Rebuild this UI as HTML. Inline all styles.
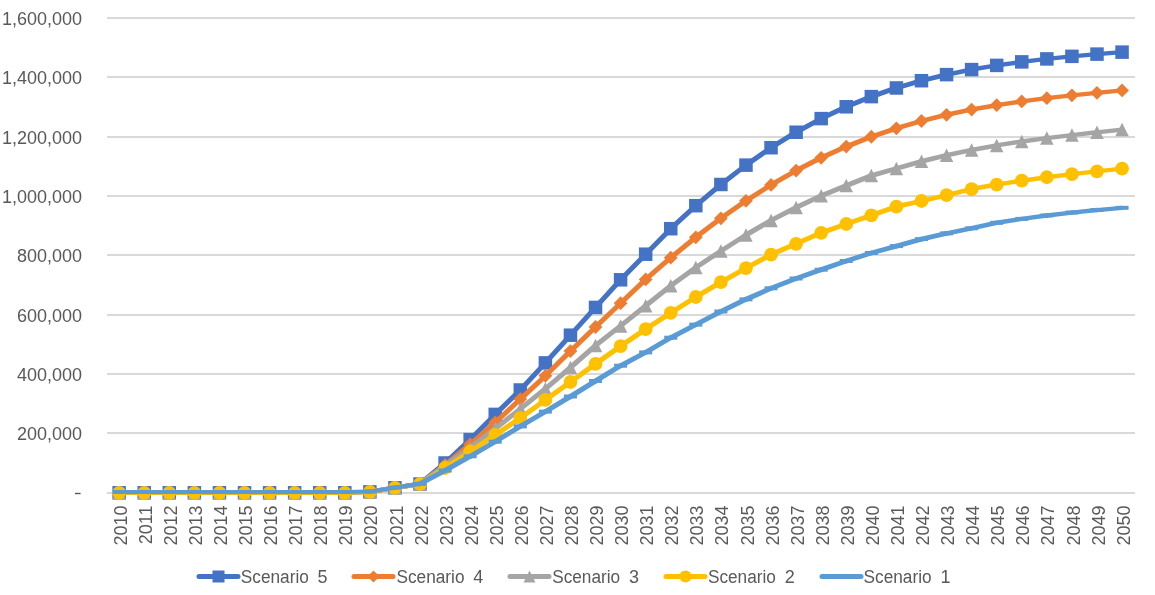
<!DOCTYPE html>
<html><head><meta charset="utf-8"><style>
html,body{margin:0;padding:0;background:#fff;}
body{width:1155px;height:595px;overflow:hidden;}
svg{display:block;will-change:transform;}
text{font-family:"Liberation Sans",sans-serif;font-size:18px;fill:#595959;}
</style></head><body>
<svg width="1155" height="595" viewBox="0 0 1155 595">
<rect width="1155" height="595" fill="#ffffff"/>
<line x1="107.0" y1="493.00" x2="1135.0" y2="493.00" stroke="#D9D9D9" stroke-width="2"/>
<line x1="107.0" y1="433.00" x2="1135.0" y2="433.00" stroke="#D9D9D9" stroke-width="2"/>
<line x1="107.0" y1="374.00" x2="1135.0" y2="374.00" stroke="#D9D9D9" stroke-width="2"/>
<line x1="107.0" y1="315.00" x2="1135.0" y2="315.00" stroke="#D9D9D9" stroke-width="2"/>
<line x1="107.0" y1="255.00" x2="1135.0" y2="255.00" stroke="#D9D9D9" stroke-width="2"/>
<line x1="107.0" y1="196.00" x2="1135.0" y2="196.00" stroke="#D9D9D9" stroke-width="2"/>
<line x1="107.0" y1="137.00" x2="1135.0" y2="137.00" stroke="#D9D9D9" stroke-width="2"/>
<line x1="107.0" y1="77.00" x2="1135.0" y2="77.00" stroke="#D9D9D9" stroke-width="2"/>
<line x1="107.0" y1="18.00" x2="1135.0" y2="18.00" stroke="#D9D9D9" stroke-width="2"/>
<rect x="75" y="492.80" width="5.6" height="1.4" fill="#595959"/>
<text x="82" y="440.00" text-anchor="end">200,000</text>
<text x="82" y="381.00" text-anchor="end">400,000</text>
<text x="82" y="322.00" text-anchor="end">600,000</text>
<text x="82" y="262.00" text-anchor="end">800,000</text>
<text x="82" y="203.00" text-anchor="end">1,000,000</text>
<text x="82" y="144.00" text-anchor="end">1,200,000</text>
<text x="82" y="84.00" text-anchor="end">1,400,000</text>
<text x="82" y="25.00" text-anchor="end">1,600,000</text>
<text transform="translate(126.74 505.5) rotate(-90)" text-anchor="end">2010</text>
<text transform="translate(151.81 505.5) rotate(-90)" text-anchor="end">2011</text>
<text transform="translate(176.88 505.5) rotate(-90)" text-anchor="end">2012</text>
<text transform="translate(201.96 505.5) rotate(-90)" text-anchor="end">2013</text>
<text transform="translate(227.03 505.5) rotate(-90)" text-anchor="end">2014</text>
<text transform="translate(252.10 505.5) rotate(-90)" text-anchor="end">2015</text>
<text transform="translate(277.18 505.5) rotate(-90)" text-anchor="end">2016</text>
<text transform="translate(302.25 505.5) rotate(-90)" text-anchor="end">2017</text>
<text transform="translate(327.32 505.5) rotate(-90)" text-anchor="end">2018</text>
<text transform="translate(352.40 505.5) rotate(-90)" text-anchor="end">2019</text>
<text transform="translate(377.47 505.5) rotate(-90)" text-anchor="end">2020</text>
<text transform="translate(402.54 505.5) rotate(-90)" text-anchor="end">2021</text>
<text transform="translate(427.61 505.5) rotate(-90)" text-anchor="end">2022</text>
<text transform="translate(452.69 505.5) rotate(-90)" text-anchor="end">2023</text>
<text transform="translate(477.76 505.5) rotate(-90)" text-anchor="end">2024</text>
<text transform="translate(502.83 505.5) rotate(-90)" text-anchor="end">2025</text>
<text transform="translate(527.91 505.5) rotate(-90)" text-anchor="end">2026</text>
<text transform="translate(552.98 505.5) rotate(-90)" text-anchor="end">2027</text>
<text transform="translate(578.05 505.5) rotate(-90)" text-anchor="end">2028</text>
<text transform="translate(603.13 505.5) rotate(-90)" text-anchor="end">2029</text>
<text transform="translate(628.20 505.5) rotate(-90)" text-anchor="end">2030</text>
<text transform="translate(653.27 505.5) rotate(-90)" text-anchor="end">2031</text>
<text transform="translate(678.35 505.5) rotate(-90)" text-anchor="end">2032</text>
<text transform="translate(703.42 505.5) rotate(-90)" text-anchor="end">2033</text>
<text transform="translate(728.49 505.5) rotate(-90)" text-anchor="end">2034</text>
<text transform="translate(753.57 505.5) rotate(-90)" text-anchor="end">2035</text>
<text transform="translate(778.64 505.5) rotate(-90)" text-anchor="end">2036</text>
<text transform="translate(803.71 505.5) rotate(-90)" text-anchor="end">2037</text>
<text transform="translate(828.79 505.5) rotate(-90)" text-anchor="end">2038</text>
<text transform="translate(853.86 505.5) rotate(-90)" text-anchor="end">2039</text>
<text transform="translate(878.93 505.5) rotate(-90)" text-anchor="end">2040</text>
<text transform="translate(904.00 505.5) rotate(-90)" text-anchor="end">2041</text>
<text transform="translate(929.08 505.5) rotate(-90)" text-anchor="end">2042</text>
<text transform="translate(954.15 505.5) rotate(-90)" text-anchor="end">2043</text>
<text transform="translate(979.22 505.5) rotate(-90)" text-anchor="end">2044</text>
<text transform="translate(1004.30 505.5) rotate(-90)" text-anchor="end">2045</text>
<text transform="translate(1029.37 505.5) rotate(-90)" text-anchor="end">2046</text>
<text transform="translate(1054.44 505.5) rotate(-90)" text-anchor="end">2047</text>
<text transform="translate(1079.52 505.5) rotate(-90)" text-anchor="end">2048</text>
<text transform="translate(1104.59 505.5) rotate(-90)" text-anchor="end">2049</text>
<text transform="translate(1129.66 505.5) rotate(-90)" text-anchor="end">2050</text>
<g stroke="#4472C4" stroke-linecap="round"><line x1="119.14" y1="492.80" x2="144.21" y2="492.80" stroke-width="4.00"/><line x1="144.21" y1="492.80" x2="169.28" y2="492.80" stroke-width="4.00"/><line x1="169.28" y1="492.80" x2="194.36" y2="492.80" stroke-width="4.00"/><line x1="194.36" y1="492.80" x2="219.43" y2="492.80" stroke-width="4.00"/><line x1="219.43" y1="492.80" x2="244.50" y2="492.80" stroke-width="4.00"/><line x1="244.50" y1="492.80" x2="269.58" y2="492.80" stroke-width="4.00"/><line x1="269.58" y1="492.80" x2="294.65" y2="492.80" stroke-width="4.00"/><line x1="294.65" y1="492.80" x2="319.72" y2="492.80" stroke-width="4.00"/><line x1="319.72" y1="492.80" x2="344.80" y2="492.80" stroke-width="4.00"/><line x1="344.80" y1="492.80" x2="369.87" y2="491.90" stroke-width="4.11"/><line x1="369.87" y1="491.90" x2="394.94" y2="487.80" stroke-width="4.49"/><line x1="394.94" y1="487.80" x2="420.01" y2="484.00" stroke-width="4.45"/><line x1="420.01" y1="484.00" x2="445.09" y2="463.00" stroke-width="5.00"/><line x1="445.09" y1="463.00" x2="470.16" y2="439.61" stroke-width="5.00"/><line x1="470.16" y1="439.61" x2="495.23" y2="414.40" stroke-width="5.00"/><line x1="495.23" y1="414.40" x2="520.31" y2="390.00" stroke-width="5.00"/><line x1="520.31" y1="390.00" x2="545.38" y2="362.90" stroke-width="5.00"/><line x1="545.38" y1="362.90" x2="570.45" y2="335.20" stroke-width="5.00"/><line x1="570.45" y1="335.20" x2="595.53" y2="307.40" stroke-width="5.00"/><line x1="595.53" y1="307.40" x2="620.60" y2="279.80" stroke-width="5.00"/><line x1="620.60" y1="279.80" x2="645.67" y2="254.20" stroke-width="5.00"/><line x1="645.67" y1="254.20" x2="670.75" y2="228.70" stroke-width="5.00"/><line x1="670.75" y1="228.70" x2="695.82" y2="205.70" stroke-width="5.00"/><line x1="695.82" y1="205.70" x2="720.89" y2="184.48" stroke-width="5.00"/><line x1="720.89" y1="184.48" x2="745.97" y2="165.14" stroke-width="5.00"/><line x1="745.97" y1="165.14" x2="771.04" y2="147.73" stroke-width="5.00"/><line x1="771.04" y1="147.73" x2="796.11" y2="132.23" stroke-width="5.00"/><line x1="796.11" y1="132.23" x2="821.19" y2="118.61" stroke-width="5.00"/><line x1="821.19" y1="118.61" x2="846.26" y2="106.78" stroke-width="5.00"/><line x1="846.26" y1="106.78" x2="871.33" y2="96.61" stroke-width="5.00"/><line x1="871.33" y1="96.61" x2="896.40" y2="87.97" stroke-width="5.00"/><line x1="896.40" y1="87.97" x2="921.48" y2="80.70" stroke-width="4.87"/><line x1="921.48" y1="80.70" x2="946.55" y2="74.63" stroke-width="4.73"/><line x1="946.55" y1="74.63" x2="971.62" y2="69.59" stroke-width="4.60"/><line x1="971.62" y1="69.59" x2="996.70" y2="65.39" stroke-width="4.50"/><line x1="996.70" y1="65.39" x2="1021.77" y2="61.88" stroke-width="4.42"/><line x1="1021.77" y1="61.88" x2="1046.84" y2="58.91" stroke-width="4.36"/><line x1="1046.84" y1="58.91" x2="1071.92" y2="56.36" stroke-width="4.31"/><line x1="1071.92" y1="56.36" x2="1096.99" y2="54.12" stroke-width="4.27"/><line x1="1096.99" y1="54.12" x2="1122.06" y2="52.14" stroke-width="4.24"/></g>
<rect x="112.39" y="486.05" width="13.50" height="13.50" fill="#4472C4"/>
<rect x="137.46" y="486.05" width="13.50" height="13.50" fill="#4472C4"/>
<rect x="162.53" y="486.05" width="13.50" height="13.50" fill="#4472C4"/>
<rect x="187.61" y="486.05" width="13.50" height="13.50" fill="#4472C4"/>
<rect x="212.68" y="486.05" width="13.50" height="13.50" fill="#4472C4"/>
<rect x="237.75" y="486.05" width="13.50" height="13.50" fill="#4472C4"/>
<rect x="262.83" y="486.05" width="13.50" height="13.50" fill="#4472C4"/>
<rect x="287.90" y="486.05" width="13.50" height="13.50" fill="#4472C4"/>
<rect x="312.97" y="486.05" width="13.50" height="13.50" fill="#4472C4"/>
<rect x="338.05" y="486.05" width="13.50" height="13.50" fill="#4472C4"/>
<rect x="363.12" y="485.15" width="13.50" height="13.50" fill="#4472C4"/>
<rect x="388.19" y="481.05" width="13.50" height="13.50" fill="#4472C4"/>
<rect x="413.26" y="477.25" width="13.50" height="13.50" fill="#4472C4"/>
<rect x="438.34" y="456.25" width="13.50" height="13.50" fill="#4472C4"/>
<rect x="463.41" y="432.86" width="13.50" height="13.50" fill="#4472C4"/>
<rect x="488.48" y="407.65" width="13.50" height="13.50" fill="#4472C4"/>
<rect x="513.56" y="383.25" width="13.50" height="13.50" fill="#4472C4"/>
<rect x="538.63" y="356.15" width="13.50" height="13.50" fill="#4472C4"/>
<rect x="563.70" y="328.45" width="13.50" height="13.50" fill="#4472C4"/>
<rect x="588.78" y="300.65" width="13.50" height="13.50" fill="#4472C4"/>
<rect x="613.85" y="273.05" width="13.50" height="13.50" fill="#4472C4"/>
<rect x="638.92" y="247.45" width="13.50" height="13.50" fill="#4472C4"/>
<rect x="664.00" y="221.95" width="13.50" height="13.50" fill="#4472C4"/>
<rect x="689.07" y="198.95" width="13.50" height="13.50" fill="#4472C4"/>
<rect x="714.14" y="177.73" width="13.50" height="13.50" fill="#4472C4"/>
<rect x="739.22" y="158.39" width="13.50" height="13.50" fill="#4472C4"/>
<rect x="764.29" y="140.98" width="13.50" height="13.50" fill="#4472C4"/>
<rect x="789.36" y="125.48" width="13.50" height="13.50" fill="#4472C4"/>
<rect x="814.44" y="111.86" width="13.50" height="13.50" fill="#4472C4"/>
<rect x="839.51" y="100.03" width="13.50" height="13.50" fill="#4472C4"/>
<rect x="864.58" y="89.86" width="13.50" height="13.50" fill="#4472C4"/>
<rect x="889.65" y="81.22" width="13.50" height="13.50" fill="#4472C4"/>
<rect x="914.73" y="73.95" width="13.50" height="13.50" fill="#4472C4"/>
<rect x="939.80" y="67.88" width="13.50" height="13.50" fill="#4472C4"/>
<rect x="964.87" y="62.84" width="13.50" height="13.50" fill="#4472C4"/>
<rect x="989.95" y="58.64" width="13.50" height="13.50" fill="#4472C4"/>
<rect x="1015.02" y="55.13" width="13.50" height="13.50" fill="#4472C4"/>
<rect x="1040.09" y="52.16" width="13.50" height="13.50" fill="#4472C4"/>
<rect x="1065.17" y="49.61" width="13.50" height="13.50" fill="#4472C4"/>
<rect x="1090.24" y="47.37" width="13.50" height="13.50" fill="#4472C4"/>
<rect x="1115.31" y="45.39" width="13.50" height="13.50" fill="#4472C4"/>
<g stroke="#ED7D31" stroke-linecap="round"><line x1="119.14" y1="492.80" x2="144.21" y2="492.80" stroke-width="4.00"/><line x1="144.21" y1="492.80" x2="169.28" y2="492.80" stroke-width="4.00"/><line x1="169.28" y1="492.80" x2="194.36" y2="492.80" stroke-width="4.00"/><line x1="194.36" y1="492.80" x2="219.43" y2="492.80" stroke-width="4.00"/><line x1="219.43" y1="492.80" x2="244.50" y2="492.80" stroke-width="4.00"/><line x1="244.50" y1="492.80" x2="269.58" y2="492.80" stroke-width="4.00"/><line x1="269.58" y1="492.80" x2="294.65" y2="492.80" stroke-width="4.00"/><line x1="294.65" y1="492.80" x2="319.72" y2="492.80" stroke-width="4.00"/><line x1="319.72" y1="492.80" x2="344.80" y2="492.80" stroke-width="4.00"/><line x1="344.80" y1="492.80" x2="369.87" y2="491.90" stroke-width="4.11"/><line x1="369.87" y1="491.90" x2="394.94" y2="487.80" stroke-width="4.49"/><line x1="394.94" y1="487.80" x2="420.01" y2="484.00" stroke-width="4.45"/><line x1="420.01" y1="484.00" x2="445.09" y2="465.00" stroke-width="5.00"/><line x1="445.09" y1="465.00" x2="470.16" y2="444.30" stroke-width="5.00"/><line x1="470.16" y1="444.30" x2="495.23" y2="422.50" stroke-width="5.00"/><line x1="495.23" y1="422.50" x2="520.31" y2="399.10" stroke-width="5.00"/><line x1="520.31" y1="399.10" x2="545.38" y2="375.80" stroke-width="5.00"/><line x1="545.38" y1="375.80" x2="570.45" y2="351.10" stroke-width="5.00"/><line x1="570.45" y1="351.10" x2="595.53" y2="327.00" stroke-width="5.00"/><line x1="595.53" y1="327.00" x2="620.60" y2="303.20" stroke-width="5.00"/><line x1="620.60" y1="303.20" x2="645.67" y2="279.41" stroke-width="5.00"/><line x1="645.67" y1="279.41" x2="670.75" y2="257.71" stroke-width="5.00"/><line x1="670.75" y1="257.71" x2="695.82" y2="237.29" stroke-width="5.00"/><line x1="695.82" y1="237.29" x2="720.89" y2="218.29" stroke-width="5.00"/><line x1="720.89" y1="218.29" x2="745.97" y2="200.81" stroke-width="5.00"/><line x1="745.97" y1="200.81" x2="771.04" y2="184.91" stroke-width="5.00"/><line x1="771.04" y1="184.91" x2="796.11" y2="170.59" stroke-width="5.00"/><line x1="796.11" y1="170.59" x2="821.19" y2="157.82" stroke-width="5.00"/><line x1="821.19" y1="157.82" x2="846.26" y2="146.57" stroke-width="5.00"/><line x1="846.26" y1="146.57" x2="871.33" y2="136.75" stroke-width="5.00"/><line x1="871.33" y1="136.75" x2="896.40" y2="128.27" stroke-width="5.00"/><line x1="896.40" y1="128.27" x2="921.48" y2="121.00" stroke-width="4.87"/><line x1="921.48" y1="121.00" x2="946.55" y2="114.81" stroke-width="4.74"/><line x1="946.55" y1="114.81" x2="971.62" y2="109.57" stroke-width="4.63"/><line x1="971.62" y1="109.57" x2="996.70" y2="105.15" stroke-width="4.53"/><line x1="996.70" y1="105.15" x2="1021.77" y2="101.39" stroke-width="4.45"/><line x1="1021.77" y1="101.39" x2="1046.84" y2="98.16" stroke-width="4.39"/><line x1="1046.84" y1="98.16" x2="1071.92" y2="95.34" stroke-width="4.34"/><line x1="1071.92" y1="95.34" x2="1096.99" y2="92.81" stroke-width="4.30"/><line x1="1096.99" y1="92.81" x2="1122.06" y2="90.48" stroke-width="4.28"/></g>
<path d="M119.14 485.92L126.02 492.80L119.14 499.69L112.25 492.80Z" fill="#ED7D31"/>
<path d="M144.21 485.92L151.09 492.80L144.21 499.69L137.32 492.80Z" fill="#ED7D31"/>
<path d="M169.28 485.92L176.17 492.80L169.28 499.69L162.40 492.80Z" fill="#ED7D31"/>
<path d="M194.36 485.92L201.24 492.80L194.36 499.69L187.47 492.80Z" fill="#ED7D31"/>
<path d="M219.43 485.92L226.31 492.80L219.43 499.69L212.54 492.80Z" fill="#ED7D31"/>
<path d="M244.50 485.92L251.39 492.80L244.50 499.69L237.62 492.80Z" fill="#ED7D31"/>
<path d="M269.58 485.92L276.46 492.80L269.58 499.69L262.69 492.80Z" fill="#ED7D31"/>
<path d="M294.65 485.92L301.53 492.80L294.65 499.69L287.76 492.80Z" fill="#ED7D31"/>
<path d="M319.72 485.92L326.61 492.80L319.72 499.69L312.84 492.80Z" fill="#ED7D31"/>
<path d="M344.80 485.92L351.68 492.80L344.80 499.69L337.91 492.80Z" fill="#ED7D31"/>
<path d="M369.87 485.01L376.75 491.90L369.87 498.78L362.98 491.90Z" fill="#ED7D31"/>
<path d="M394.94 480.92L401.83 487.80L394.94 494.69L388.06 487.80Z" fill="#ED7D31"/>
<path d="M420.01 477.12L426.90 484.00L420.01 490.88L413.13 484.00Z" fill="#ED7D31"/>
<path d="M445.09 458.12L451.97 465.00L445.09 471.88L438.20 465.00Z" fill="#ED7D31"/>
<path d="M470.16 437.42L477.05 444.30L470.16 451.19L463.28 444.30Z" fill="#ED7D31"/>
<path d="M495.23 415.62L502.12 422.50L495.23 429.38L488.35 422.50Z" fill="#ED7D31"/>
<path d="M520.31 392.22L527.19 399.10L520.31 405.99L513.42 399.10Z" fill="#ED7D31"/>
<path d="M545.38 368.92L552.27 375.80L545.38 382.69L538.50 375.80Z" fill="#ED7D31"/>
<path d="M570.45 344.22L577.34 351.10L570.45 357.99L563.57 351.10Z" fill="#ED7D31"/>
<path d="M595.53 320.12L602.41 327.00L595.53 333.88L588.64 327.00Z" fill="#ED7D31"/>
<path d="M620.60 296.31L627.49 303.20L620.60 310.08L613.72 303.20Z" fill="#ED7D31"/>
<path d="M645.67 272.53L652.56 279.41L645.67 286.30L638.79 279.41Z" fill="#ED7D31"/>
<path d="M670.75 250.82L677.63 257.71L670.75 264.59L663.86 257.71Z" fill="#ED7D31"/>
<path d="M695.82 230.40L702.70 237.29L695.82 244.17L688.93 237.29Z" fill="#ED7D31"/>
<path d="M720.89 211.41L727.78 218.29L720.89 225.18L714.01 218.29Z" fill="#ED7D31"/>
<path d="M745.97 193.93L752.85 200.81L745.97 207.70L739.08 200.81Z" fill="#ED7D31"/>
<path d="M771.04 178.02L777.92 184.91L771.04 191.79L764.15 184.91Z" fill="#ED7D31"/>
<path d="M796.11 163.70L803.00 170.59L796.11 177.47L789.23 170.59Z" fill="#ED7D31"/>
<path d="M821.19 150.94L828.07 157.82L821.19 164.71L814.30 157.82Z" fill="#ED7D31"/>
<path d="M846.26 139.69L853.14 146.57L846.26 153.46L839.37 146.57Z" fill="#ED7D31"/>
<path d="M871.33 129.87L878.22 136.75L871.33 143.64L864.45 136.75Z" fill="#ED7D31"/>
<path d="M896.40 121.38L903.29 128.27L896.40 135.15L889.52 128.27Z" fill="#ED7D31"/>
<path d="M921.48 114.11L928.36 121.00L921.48 127.88L914.59 121.00Z" fill="#ED7D31"/>
<path d="M946.55 107.93L953.44 114.81L946.55 121.70L939.67 114.81Z" fill="#ED7D31"/>
<path d="M971.62 102.69L978.51 109.57L971.62 116.46L964.74 109.57Z" fill="#ED7D31"/>
<path d="M996.70 98.26L1003.58 105.15L996.70 112.03L989.81 105.15Z" fill="#ED7D31"/>
<path d="M1021.77 94.50L1028.66 101.39L1021.77 108.27L1014.89 101.39Z" fill="#ED7D31"/>
<path d="M1046.84 91.27L1053.73 98.16L1046.84 105.04L1039.96 98.16Z" fill="#ED7D31"/>
<path d="M1071.92 88.45L1078.80 95.34L1071.92 102.22L1065.03 95.34Z" fill="#ED7D31"/>
<path d="M1096.99 85.92L1103.88 92.81L1096.99 99.69L1090.11 92.81Z" fill="#ED7D31"/>
<path d="M1122.06 83.59L1128.95 90.48L1122.06 97.36L1115.18 90.48Z" fill="#ED7D31"/>
<g stroke="#A5A5A5" stroke-linecap="round"><line x1="119.14" y1="492.80" x2="144.21" y2="492.80" stroke-width="4.00"/><line x1="144.21" y1="492.80" x2="169.28" y2="492.80" stroke-width="4.00"/><line x1="169.28" y1="492.80" x2="194.36" y2="492.80" stroke-width="4.00"/><line x1="194.36" y1="492.80" x2="219.43" y2="492.80" stroke-width="4.00"/><line x1="219.43" y1="492.80" x2="244.50" y2="492.80" stroke-width="4.00"/><line x1="244.50" y1="492.80" x2="269.58" y2="492.80" stroke-width="4.00"/><line x1="269.58" y1="492.80" x2="294.65" y2="492.80" stroke-width="4.00"/><line x1="294.65" y1="492.80" x2="319.72" y2="492.80" stroke-width="4.00"/><line x1="319.72" y1="492.80" x2="344.80" y2="492.80" stroke-width="4.00"/><line x1="344.80" y1="492.80" x2="369.87" y2="491.90" stroke-width="4.11"/><line x1="369.87" y1="491.90" x2="394.94" y2="487.80" stroke-width="4.49"/><line x1="394.94" y1="487.80" x2="420.01" y2="484.00" stroke-width="4.45"/><line x1="420.01" y1="484.00" x2="445.09" y2="465.50" stroke-width="5.00"/><line x1="445.09" y1="465.50" x2="470.16" y2="447.90" stroke-width="5.00"/><line x1="470.16" y1="447.90" x2="495.23" y2="428.60" stroke-width="5.00"/><line x1="495.23" y1="428.60" x2="520.31" y2="408.90" stroke-width="5.00"/><line x1="520.31" y1="408.90" x2="545.38" y2="388.80" stroke-width="5.00"/><line x1="545.38" y1="388.80" x2="570.45" y2="367.50" stroke-width="5.00"/><line x1="570.45" y1="367.50" x2="595.53" y2="345.50" stroke-width="5.00"/><line x1="595.53" y1="345.50" x2="620.60" y2="325.90" stroke-width="5.00"/><line x1="620.60" y1="325.90" x2="645.67" y2="305.71" stroke-width="5.00"/><line x1="645.67" y1="305.71" x2="670.75" y2="285.80" stroke-width="5.00"/><line x1="670.75" y1="285.80" x2="695.82" y2="267.50" stroke-width="5.00"/><line x1="695.82" y1="267.50" x2="720.89" y2="251.00" stroke-width="5.00"/><line x1="720.89" y1="251.00" x2="745.97" y2="235.00" stroke-width="5.00"/><line x1="745.97" y1="235.00" x2="771.04" y2="220.40" stroke-width="5.00"/><line x1="771.04" y1="220.40" x2="796.11" y2="207.50" stroke-width="5.00"/><line x1="796.11" y1="207.50" x2="821.19" y2="195.80" stroke-width="5.00"/><line x1="821.19" y1="195.80" x2="846.26" y2="185.60" stroke-width="5.00"/><line x1="846.26" y1="185.60" x2="871.33" y2="175.60" stroke-width="5.00"/><line x1="871.33" y1="175.60" x2="896.40" y2="168.48" stroke-width="4.85"/><line x1="896.40" y1="168.48" x2="921.48" y2="161.36" stroke-width="4.85"/><line x1="921.48" y1="161.36" x2="946.55" y2="155.21" stroke-width="4.74"/><line x1="946.55" y1="155.21" x2="971.62" y2="149.94" stroke-width="4.63"/><line x1="971.62" y1="149.94" x2="996.70" y2="145.41" stroke-width="4.54"/><line x1="996.70" y1="145.41" x2="1021.77" y2="141.52" stroke-width="4.47"/><line x1="1021.77" y1="141.52" x2="1046.84" y2="138.12" stroke-width="4.41"/><line x1="1046.84" y1="138.12" x2="1071.92" y2="135.08" stroke-width="4.36"/><line x1="1071.92" y1="135.08" x2="1096.99" y2="132.28" stroke-width="4.34"/><line x1="1096.99" y1="132.28" x2="1122.06" y2="129.58" stroke-width="4.32"/></g>
<path d="M119.14 486.05L125.89 499.55L112.39 499.55Z" fill="#A5A5A5"/>
<path d="M144.21 486.05L150.96 499.55L137.46 499.55Z" fill="#A5A5A5"/>
<path d="M169.28 486.05L176.03 499.55L162.53 499.55Z" fill="#A5A5A5"/>
<path d="M194.36 486.05L201.11 499.55L187.61 499.55Z" fill="#A5A5A5"/>
<path d="M219.43 486.05L226.18 499.55L212.68 499.55Z" fill="#A5A5A5"/>
<path d="M244.50 486.05L251.25 499.55L237.75 499.55Z" fill="#A5A5A5"/>
<path d="M269.58 486.05L276.33 499.55L262.83 499.55Z" fill="#A5A5A5"/>
<path d="M294.65 486.05L301.40 499.55L287.90 499.55Z" fill="#A5A5A5"/>
<path d="M319.72 486.05L326.47 499.55L312.97 499.55Z" fill="#A5A5A5"/>
<path d="M344.80 486.05L351.55 499.55L338.05 499.55Z" fill="#A5A5A5"/>
<path d="M369.87 485.15L376.62 498.65L363.12 498.65Z" fill="#A5A5A5"/>
<path d="M394.94 481.05L401.69 494.55L388.19 494.55Z" fill="#A5A5A5"/>
<path d="M420.01 477.25L426.76 490.75L413.26 490.75Z" fill="#A5A5A5"/>
<path d="M445.09 458.75L451.84 472.25L438.34 472.25Z" fill="#A5A5A5"/>
<path d="M470.16 441.15L476.91 454.65L463.41 454.65Z" fill="#A5A5A5"/>
<path d="M495.23 421.85L501.98 435.35L488.48 435.35Z" fill="#A5A5A5"/>
<path d="M520.31 402.15L527.06 415.65L513.56 415.65Z" fill="#A5A5A5"/>
<path d="M545.38 382.05L552.13 395.55L538.63 395.55Z" fill="#A5A5A5"/>
<path d="M570.45 360.75L577.20 374.25L563.70 374.25Z" fill="#A5A5A5"/>
<path d="M595.53 338.75L602.28 352.25L588.78 352.25Z" fill="#A5A5A5"/>
<path d="M620.60 319.15L627.35 332.65L613.85 332.65Z" fill="#A5A5A5"/>
<path d="M645.67 298.96L652.42 312.46L638.92 312.46Z" fill="#A5A5A5"/>
<path d="M670.75 279.05L677.50 292.55L664.00 292.55Z" fill="#A5A5A5"/>
<path d="M695.82 260.75L702.57 274.25L689.07 274.25Z" fill="#A5A5A5"/>
<path d="M720.89 244.25L727.64 257.75L714.14 257.75Z" fill="#A5A5A5"/>
<path d="M745.97 228.25L752.72 241.75L739.22 241.75Z" fill="#A5A5A5"/>
<path d="M771.04 213.65L777.79 227.15L764.29 227.15Z" fill="#A5A5A5"/>
<path d="M796.11 200.75L802.86 214.25L789.36 214.25Z" fill="#A5A5A5"/>
<path d="M821.19 189.05L827.94 202.55L814.44 202.55Z" fill="#A5A5A5"/>
<path d="M846.26 178.85L853.01 192.35L839.51 192.35Z" fill="#A5A5A5"/>
<path d="M871.33 168.85L878.08 182.35L864.58 182.35Z" fill="#A5A5A5"/>
<path d="M896.40 161.73L903.15 175.23L889.65 175.23Z" fill="#A5A5A5"/>
<path d="M921.48 154.61L928.23 168.11L914.73 168.11Z" fill="#A5A5A5"/>
<path d="M946.55 148.46L953.30 161.96L939.80 161.96Z" fill="#A5A5A5"/>
<path d="M971.62 143.19L978.37 156.69L964.87 156.69Z" fill="#A5A5A5"/>
<path d="M996.70 138.66L1003.45 152.16L989.95 152.16Z" fill="#A5A5A5"/>
<path d="M1021.77 134.77L1028.52 148.27L1015.02 148.27Z" fill="#A5A5A5"/>
<path d="M1046.84 131.37L1053.59 144.87L1040.09 144.87Z" fill="#A5A5A5"/>
<path d="M1071.92 128.33L1078.67 141.83L1065.17 141.83Z" fill="#A5A5A5"/>
<path d="M1096.99 125.53L1103.74 139.03L1090.24 139.03Z" fill="#A5A5A5"/>
<path d="M1122.06 122.83L1128.81 136.33L1115.31 136.33Z" fill="#A5A5A5"/>
<g stroke="#FFC000" stroke-linecap="round"><line x1="119.14" y1="492.80" x2="144.21" y2="492.80" stroke-width="4.00"/><line x1="144.21" y1="492.80" x2="169.28" y2="492.80" stroke-width="4.00"/><line x1="169.28" y1="492.80" x2="194.36" y2="492.80" stroke-width="4.00"/><line x1="194.36" y1="492.80" x2="219.43" y2="492.80" stroke-width="4.00"/><line x1="219.43" y1="492.80" x2="244.50" y2="492.80" stroke-width="4.00"/><line x1="244.50" y1="492.80" x2="269.58" y2="492.80" stroke-width="4.00"/><line x1="269.58" y1="492.80" x2="294.65" y2="492.80" stroke-width="4.00"/><line x1="294.65" y1="492.80" x2="319.72" y2="492.80" stroke-width="4.00"/><line x1="319.72" y1="492.80" x2="344.80" y2="492.80" stroke-width="4.00"/><line x1="344.80" y1="492.80" x2="369.87" y2="491.90" stroke-width="4.11"/><line x1="369.87" y1="491.90" x2="394.94" y2="487.80" stroke-width="4.49"/><line x1="394.94" y1="487.80" x2="420.01" y2="484.00" stroke-width="4.45"/><line x1="420.01" y1="484.00" x2="445.09" y2="468.00" stroke-width="5.00"/><line x1="445.09" y1="468.00" x2="470.16" y2="451.50" stroke-width="5.00"/><line x1="470.16" y1="451.50" x2="495.23" y2="434.90" stroke-width="5.00"/><line x1="495.23" y1="434.90" x2="520.31" y2="418.10" stroke-width="5.00"/><line x1="520.31" y1="418.10" x2="545.38" y2="399.90" stroke-width="5.00"/><line x1="545.38" y1="399.90" x2="570.45" y2="382.00" stroke-width="5.00"/><line x1="570.45" y1="382.00" x2="595.53" y2="363.90" stroke-width="5.00"/><line x1="595.53" y1="363.90" x2="620.60" y2="346.10" stroke-width="5.00"/><line x1="620.60" y1="346.10" x2="645.67" y2="329.10" stroke-width="5.00"/><line x1="645.67" y1="329.10" x2="670.75" y2="312.80" stroke-width="5.00"/><line x1="670.75" y1="312.80" x2="695.82" y2="297.00" stroke-width="5.00"/><line x1="695.82" y1="297.00" x2="720.89" y2="282.20" stroke-width="5.00"/><line x1="720.89" y1="282.20" x2="745.97" y2="268.10" stroke-width="5.00"/><line x1="745.97" y1="268.10" x2="771.04" y2="254.61" stroke-width="5.00"/><line x1="771.04" y1="254.61" x2="796.11" y2="243.80" stroke-width="5.00"/><line x1="796.11" y1="243.80" x2="821.19" y2="232.80" stroke-width="5.00"/><line x1="821.19" y1="232.80" x2="846.26" y2="224.00" stroke-width="5.00"/><line x1="846.26" y1="224.00" x2="871.33" y2="215.30" stroke-width="5.00"/><line x1="871.33" y1="215.30" x2="896.40" y2="206.63" stroke-width="5.00"/><line x1="896.40" y1="206.63" x2="921.48" y2="201.00" stroke-width="4.67"/><line x1="921.48" y1="201.00" x2="946.55" y2="195.20" stroke-width="4.69"/><line x1="946.55" y1="195.20" x2="971.62" y2="189.04" stroke-width="4.74"/><line x1="971.62" y1="189.04" x2="996.70" y2="184.60" stroke-width="4.53"/><line x1="996.70" y1="184.60" x2="1021.77" y2="180.70" stroke-width="4.47"/><line x1="1021.77" y1="180.70" x2="1046.84" y2="177.25" stroke-width="4.41"/><line x1="1046.84" y1="177.25" x2="1071.92" y2="174.15" stroke-width="4.37"/><line x1="1071.92" y1="174.15" x2="1096.99" y2="171.31" stroke-width="4.34"/><line x1="1096.99" y1="171.31" x2="1122.06" y2="168.62" stroke-width="4.32"/></g>
<circle cx="119.14" cy="492.80" r="6.88" fill="#FFC000"/>
<circle cx="144.21" cy="492.80" r="6.88" fill="#FFC000"/>
<circle cx="169.28" cy="492.80" r="6.88" fill="#FFC000"/>
<circle cx="194.36" cy="492.80" r="6.88" fill="#FFC000"/>
<circle cx="219.43" cy="492.80" r="6.88" fill="#FFC000"/>
<circle cx="244.50" cy="492.80" r="6.88" fill="#FFC000"/>
<circle cx="269.58" cy="492.80" r="6.88" fill="#FFC000"/>
<circle cx="294.65" cy="492.80" r="6.88" fill="#FFC000"/>
<circle cx="319.72" cy="492.80" r="6.88" fill="#FFC000"/>
<circle cx="344.80" cy="492.80" r="6.88" fill="#FFC000"/>
<circle cx="369.87" cy="491.90" r="6.88" fill="#FFC000"/>
<circle cx="394.94" cy="487.80" r="6.88" fill="#FFC000"/>
<circle cx="420.01" cy="484.00" r="6.88" fill="#FFC000"/>
<circle cx="445.09" cy="468.00" r="6.88" fill="#FFC000"/>
<circle cx="470.16" cy="451.50" r="6.88" fill="#FFC000"/>
<circle cx="495.23" cy="434.90" r="6.88" fill="#FFC000"/>
<circle cx="520.31" cy="418.10" r="6.88" fill="#FFC000"/>
<circle cx="545.38" cy="399.90" r="6.88" fill="#FFC000"/>
<circle cx="570.45" cy="382.00" r="6.88" fill="#FFC000"/>
<circle cx="595.53" cy="363.90" r="6.88" fill="#FFC000"/>
<circle cx="620.60" cy="346.10" r="6.88" fill="#FFC000"/>
<circle cx="645.67" cy="329.10" r="6.88" fill="#FFC000"/>
<circle cx="670.75" cy="312.80" r="6.88" fill="#FFC000"/>
<circle cx="695.82" cy="297.00" r="6.88" fill="#FFC000"/>
<circle cx="720.89" cy="282.20" r="6.88" fill="#FFC000"/>
<circle cx="745.97" cy="268.10" r="6.88" fill="#FFC000"/>
<circle cx="771.04" cy="254.61" r="6.88" fill="#FFC000"/>
<circle cx="796.11" cy="243.80" r="6.88" fill="#FFC000"/>
<circle cx="821.19" cy="232.80" r="6.88" fill="#FFC000"/>
<circle cx="846.26" cy="224.00" r="6.88" fill="#FFC000"/>
<circle cx="871.33" cy="215.30" r="6.88" fill="#FFC000"/>
<circle cx="896.40" cy="206.63" r="6.88" fill="#FFC000"/>
<circle cx="921.48" cy="201.00" r="6.88" fill="#FFC000"/>
<circle cx="946.55" cy="195.20" r="6.88" fill="#FFC000"/>
<circle cx="971.62" cy="189.04" r="6.88" fill="#FFC000"/>
<circle cx="996.70" cy="184.60" r="6.88" fill="#FFC000"/>
<circle cx="1021.77" cy="180.70" r="6.88" fill="#FFC000"/>
<circle cx="1046.84" cy="177.25" r="6.88" fill="#FFC000"/>
<circle cx="1071.92" cy="174.15" r="6.88" fill="#FFC000"/>
<circle cx="1096.99" cy="171.31" r="6.88" fill="#FFC000"/>
<circle cx="1122.06" cy="168.62" r="6.88" fill="#FFC000"/>
<g stroke="#5B9BD5" stroke-linecap="round"><line x1="119.14" y1="492.00" x2="144.21" y2="492.00" stroke-width="4.00"/><line x1="144.21" y1="492.00" x2="169.28" y2="492.00" stroke-width="4.00"/><line x1="169.28" y1="492.00" x2="194.36" y2="492.00" stroke-width="4.00"/><line x1="194.36" y1="492.00" x2="219.43" y2="492.00" stroke-width="4.00"/><line x1="219.43" y1="492.00" x2="244.50" y2="492.00" stroke-width="4.00"/><line x1="244.50" y1="492.00" x2="269.58" y2="492.00" stroke-width="4.00"/><line x1="269.58" y1="492.00" x2="294.65" y2="492.00" stroke-width="4.00"/><line x1="294.65" y1="492.00" x2="319.72" y2="492.00" stroke-width="4.00"/><line x1="319.72" y1="492.00" x2="344.80" y2="492.00" stroke-width="4.00"/><line x1="344.80" y1="492.00" x2="369.87" y2="491.60" stroke-width="4.05"/><line x1="369.87" y1="491.60" x2="394.94" y2="487.60" stroke-width="4.48"/><line x1="394.94" y1="487.60" x2="420.01" y2="483.80" stroke-width="4.45"/><line x1="420.01" y1="483.80" x2="445.09" y2="470.50" stroke-width="5.00"/><line x1="445.09" y1="470.50" x2="470.16" y2="456.30" stroke-width="5.00"/><line x1="470.16" y1="456.30" x2="495.23" y2="441.70" stroke-width="5.00"/><line x1="495.23" y1="441.70" x2="520.31" y2="426.40" stroke-width="5.00"/><line x1="520.31" y1="426.40" x2="545.38" y2="411.60" stroke-width="5.00"/><line x1="545.38" y1="411.60" x2="570.45" y2="396.50" stroke-width="5.00"/><line x1="570.45" y1="396.50" x2="595.53" y2="381.00" stroke-width="5.00"/><line x1="595.53" y1="381.00" x2="620.60" y2="365.70" stroke-width="5.00"/><line x1="620.60" y1="365.70" x2="645.67" y2="352.40" stroke-width="5.00"/><line x1="645.67" y1="352.40" x2="670.75" y2="337.70" stroke-width="5.00"/><line x1="670.75" y1="337.70" x2="695.82" y2="324.60" stroke-width="5.00"/><line x1="695.82" y1="324.60" x2="720.89" y2="311.50" stroke-width="5.00"/><line x1="720.89" y1="311.50" x2="745.97" y2="299.37" stroke-width="5.00"/><line x1="745.97" y1="299.37" x2="771.04" y2="288.29" stroke-width="5.00"/><line x1="771.04" y1="288.29" x2="796.11" y2="278.50" stroke-width="5.00"/><line x1="796.11" y1="278.50" x2="821.19" y2="269.70" stroke-width="5.00"/><line x1="821.19" y1="269.70" x2="846.26" y2="261.00" stroke-width="5.00"/><line x1="846.26" y1="261.00" x2="871.33" y2="253.00" stroke-width="4.96"/><line x1="871.33" y1="253.00" x2="896.40" y2="246.10" stroke-width="4.83"/><line x1="896.40" y1="246.10" x2="921.48" y2="239.10" stroke-width="4.84"/><line x1="921.48" y1="239.10" x2="946.55" y2="233.40" stroke-width="4.68"/><line x1="946.55" y1="233.40" x2="971.62" y2="228.30" stroke-width="4.61"/><line x1="971.62" y1="228.30" x2="996.70" y2="222.79" stroke-width="4.66"/><line x1="996.70" y1="222.79" x2="1021.77" y2="218.88" stroke-width="4.47"/><line x1="1021.77" y1="218.88" x2="1046.84" y2="215.48" stroke-width="4.41"/><line x1="1046.84" y1="215.48" x2="1071.92" y2="212.54" stroke-width="4.35"/><line x1="1071.92" y1="212.54" x2="1096.99" y2="210.01" stroke-width="4.30"/><line x1="1096.99" y1="210.01" x2="1122.06" y2="207.83" stroke-width="4.26"/></g>
<rect x="112.64" y="490.00" width="13" height="4.0" fill="#5B9BD5"/>
<rect x="137.71" y="490.00" width="13" height="4.0" fill="#5B9BD5"/>
<rect x="162.78" y="490.00" width="13" height="4.0" fill="#5B9BD5"/>
<rect x="187.86" y="490.00" width="13" height="4.0" fill="#5B9BD5"/>
<rect x="212.93" y="490.00" width="13" height="4.0" fill="#5B9BD5"/>
<rect x="238.00" y="490.00" width="13" height="4.0" fill="#5B9BD5"/>
<rect x="263.08" y="490.00" width="13" height="4.0" fill="#5B9BD5"/>
<rect x="288.15" y="490.00" width="13" height="4.0" fill="#5B9BD5"/>
<rect x="313.22" y="490.00" width="13" height="4.0" fill="#5B9BD5"/>
<rect x="338.30" y="490.00" width="13" height="4.0" fill="#5B9BD5"/>
<rect x="363.37" y="489.60" width="13" height="4.0" fill="#5B9BD5"/>
<rect x="388.44" y="485.60" width="13" height="4.0" fill="#5B9BD5"/>
<rect x="413.51" y="481.80" width="13" height="4.0" fill="#5B9BD5"/>
<rect x="438.59" y="468.50" width="13" height="4.0" fill="#5B9BD5"/>
<rect x="463.66" y="454.30" width="13" height="4.0" fill="#5B9BD5"/>
<rect x="488.73" y="439.70" width="13" height="4.0" fill="#5B9BD5"/>
<rect x="513.81" y="424.40" width="13" height="4.0" fill="#5B9BD5"/>
<rect x="538.88" y="409.60" width="13" height="4.0" fill="#5B9BD5"/>
<rect x="563.95" y="394.50" width="13" height="4.0" fill="#5B9BD5"/>
<rect x="589.03" y="379.00" width="13" height="4.0" fill="#5B9BD5"/>
<rect x="614.10" y="363.70" width="13" height="4.0" fill="#5B9BD5"/>
<rect x="639.17" y="350.40" width="13" height="4.0" fill="#5B9BD5"/>
<rect x="664.25" y="335.70" width="13" height="4.0" fill="#5B9BD5"/>
<rect x="689.32" y="322.60" width="13" height="4.0" fill="#5B9BD5"/>
<rect x="714.39" y="309.50" width="13" height="4.0" fill="#5B9BD5"/>
<rect x="739.47" y="297.37" width="13" height="4.0" fill="#5B9BD5"/>
<rect x="764.54" y="286.29" width="13" height="4.0" fill="#5B9BD5"/>
<rect x="789.61" y="276.50" width="13" height="4.0" fill="#5B9BD5"/>
<rect x="814.69" y="267.70" width="13" height="4.0" fill="#5B9BD5"/>
<rect x="839.76" y="259.00" width="13" height="4.0" fill="#5B9BD5"/>
<rect x="864.83" y="251.00" width="13" height="4.0" fill="#5B9BD5"/>
<rect x="889.90" y="244.10" width="13" height="4.0" fill="#5B9BD5"/>
<rect x="914.98" y="237.10" width="13" height="4.0" fill="#5B9BD5"/>
<rect x="940.05" y="231.40" width="13" height="4.0" fill="#5B9BD5"/>
<rect x="965.12" y="226.30" width="13" height="4.0" fill="#5B9BD5"/>
<rect x="990.20" y="220.79" width="13" height="4.0" fill="#5B9BD5"/>
<rect x="1015.27" y="216.88" width="13" height="4.0" fill="#5B9BD5"/>
<rect x="1040.34" y="213.48" width="13" height="4.0" fill="#5B9BD5"/>
<rect x="1065.42" y="210.54" width="13" height="4.0" fill="#5B9BD5"/>
<rect x="1090.49" y="208.01" width="13" height="4.0" fill="#5B9BD5"/>
<rect x="1115.56" y="205.83" width="13" height="4.0" fill="#5B9BD5"/>
<line x1="199" y1="576.5" x2="238" y2="576.5" stroke="#4472C4" stroke-width="5" stroke-linecap="round"/>
<rect x="212.50" y="570.50" width="12.00" height="12.00" fill="#4472C4"/>
<text x="240.80" y="583" textLength="68" lengthAdjust="spacingAndGlyphs">Scenario</text>
<text x="317.60" y="583">5</text>
<line x1="354" y1="576.5" x2="393" y2="576.5" stroke="#ED7D31" stroke-width="5" stroke-linecap="round"/>
<path d="M373.50 570.38L379.62 576.50L373.50 582.62L367.38 576.50Z" fill="#ED7D31"/>
<text x="396.50" y="583" textLength="68" lengthAdjust="spacingAndGlyphs">Scenario</text>
<text x="473.30" y="583">4</text>
<line x1="510" y1="576.5" x2="549" y2="576.5" stroke="#A5A5A5" stroke-width="5" stroke-linecap="round"/>
<path d="M529.50 570.50L535.50 582.50L523.50 582.50Z" fill="#A5A5A5"/>
<text x="552.20" y="583" textLength="68" lengthAdjust="spacingAndGlyphs">Scenario</text>
<text x="629.00" y="583">3</text>
<line x1="666" y1="576.5" x2="705" y2="576.5" stroke="#FFC000" stroke-width="5" stroke-linecap="round"/>
<circle cx="685.50" cy="576.50" r="6.12" fill="#FFC000"/>
<text x="707.90" y="583" textLength="68" lengthAdjust="spacingAndGlyphs">Scenario</text>
<text x="784.70" y="583">2</text>
<line x1="822" y1="576.5" x2="861" y2="576.5" stroke="#5B9BD5" stroke-width="5" stroke-linecap="round"/>
<rect x="835.00" y="574.50" width="13" height="4.0" fill="#5B9BD5"/>
<text x="863.60" y="583" textLength="68" lengthAdjust="spacingAndGlyphs">Scenario</text>
<text x="940.40" y="583">1</text>
</svg>
</body></html>
